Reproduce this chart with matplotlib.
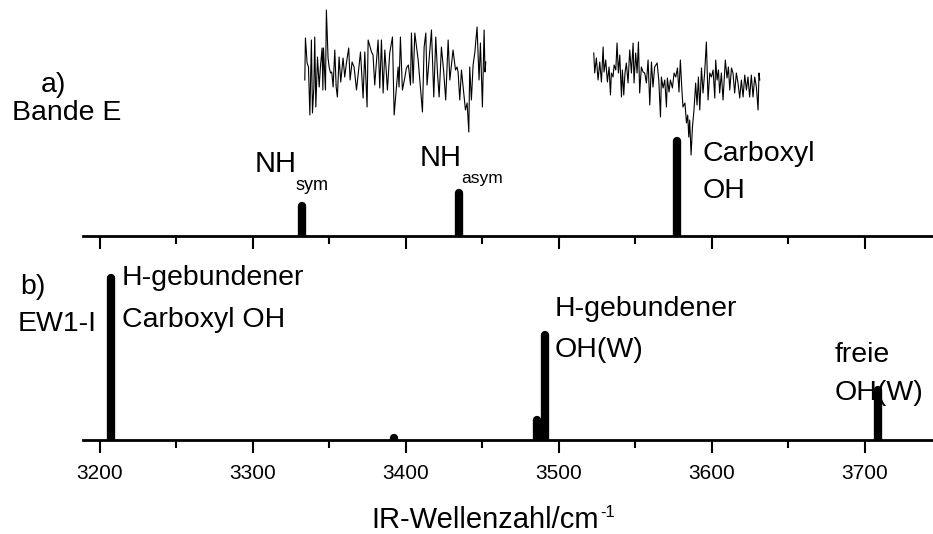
import matplotlib
matplotlib.use("Agg")
import matplotlib.pyplot as plt
from matplotlib.ticker import MultipleLocator

plt.rcParams['font.family'] = ['Liberation Sans', 'DejaVu Sans']

# Panel a) Bande E: computed stick spectrum (wavenumber / cm-1, relative intensity)
a_wn = [3332.0, 3434.5, 3577.0]
a_int = [0.30, 0.43, 0.95]

# Panel b) EW1-I: computed stick spectrum
b_wn = [3207.0, 3392.5, 3486.0, 3490.8, 3708.5]
b_int = [1.62, 0.02, 0.20, 1.05, 0.50]

# Experimental IR trace, first scan window
exp1_wn = [3334.0, 3334.4, 3335.5, 3336.4, 3337.3, 3338.3, 3339.0, 3339.9, 3340.5, 3341.2,
           3342.3, 3343.4, 3344.2, 3345.3, 3345.8, 3346.2, 3347.5, 3348.1, 3349.2, 3349.9,
           3350.8, 3351.6, 3352.5, 3353.6, 3354.5, 3355.3, 3356.4, 3357.5, 3359.0, 3360.1,
           3361.2, 3362.7, 3363.6, 3364.9, 3366.2, 3367.8, 3370.4, 3372.1, 3373.2, 3374.7,
           3375.4, 3377.6, 3378.6, 3379.7, 3381.9, 3383.0, 3384.1, 3385.2, 3386.3, 3387.4,
           3388.0, 3389.5, 3391.3, 3392.4, 3395.0, 3395.6, 3396.5, 3397.8, 3399.1, 3400.4,
           3401.7, 3403.1, 3403.7, 3404.8, 3405.9, 3408.1, 3410.9, 3412.0, 3413.1, 3413.9,
           3416.8, 3418.3, 3419.6, 3420.7, 3421.8, 3423.3, 3424.8, 3426.1, 3427.7, 3428.8,
           3430.9, 3432.5, 3433.5, 3434.2, 3435.3, 3436.4, 3437.5, 3439.0, 3440.1, 3441.2,
           3441.8, 3442.9, 3444.0, 3445.1, 3446.6, 3447.9, 3448.8, 3450.1, 3451.2, 3451.8,
           3452.3]
exp1_sig = [1.56, 1.98, 1.73, 1.69, 1.21, 1.96, 1.23, 1.48, 1.99, 1.29,
            1.79, 1.49, 1.69, 1.88, 1.46, 1.88, 1.46, 2.26, 1.78, 1.69,
            1.63, 1.64, 1.49, 1.86, 1.49, 1.39, 1.79, 1.54, 1.78, 1.59,
            1.73, 1.88, 1.56, 1.74, 1.69, 1.46, 1.84, 1.38, 1.84, 1.29,
            1.96, 1.84, 1.81, 1.51, 1.96, 1.48, 1.96, 1.43, 1.86, 1.61,
            1.46, 1.83, 1.99, 1.21, 1.69, 1.49, 1.99, 1.46, 1.56, 1.68,
            1.71, 1.51, 2.03, 1.53, 2.03, 1.76, 1.24, 1.89, 2.03, 1.51,
            2.06, 1.39, 1.99, 1.64, 1.39, 1.89, 1.64, 1.36, 1.96, 1.56,
            1.86, 1.66, 1.69, 1.64, 1.36, 1.66, 1.49, 1.26, 1.33, 1.04,
            1.69, 1.36, 1.71, 1.83, 2.09, 1.56, 1.93, 1.29, 2.06, 1.64,
            1.74]

# Experimental IR trace, second scan window
exp2_wn = [3522.9, 3523.5, 3524.6, 3525.7, 3526.8, 3527.9, 3529.0, 3529.6, 3530.7, 3531.8,
           3532.9, 3533.8, 3534.4, 3535.5, 3536.2, 3537.3, 3538.1, 3539.0, 3539.9, 3541.0,
           3541.6, 3542.5, 3543.3, 3544.2, 3545.3, 3546.4, 3547.5, 3548.6, 3549.2, 3550.3,
           3551.2, 3552.1, 3552.9, 3554.0, 3555.1, 3556.2, 3557.3, 3558.4, 3559.5, 3560.6,
           3561.6, 3562.7, 3564.3, 3565.4, 3566.5, 3567.1, 3568.2, 3569.3, 3570.4, 3571.0,
           3572.1, 3573.0, 3574.3, 3575.4, 3576.5, 3577.6, 3578.6, 3579.5, 3580.4, 3581.2,
           3582.5, 3583.5, 3584.3, 3585.0, 3585.6, 3586.5, 3587.4, 3588.4, 3589.5, 3590.4,
           3591.3, 3592.2, 3593.3, 3594.3, 3595.4, 3596.5, 3597.6, 3598.7, 3599.8, 3600.9,
           3602.0, 3602.6, 3603.5, 3604.4, 3605.2, 3606.3, 3607.4, 3608.9, 3610.0, 3610.9,
           3611.8, 3612.9, 3613.9, 3615.0, 3616.1, 3617.2, 3618.3, 3619.4, 3620.5, 3621.6,
           3622.7, 3623.7, 3624.8, 3625.9, 3627.0, 3628.1, 3629.2, 3630.3, 3630.9, 3631.4]
exp2_sig = [1.83, 1.63, 1.78, 1.56, 1.74, 1.54, 1.89, 1.64, 1.76, 1.54,
            1.69, 1.41, 1.63, 1.59, 1.71, 1.66, 1.93, 1.63, 1.81, 1.39,
            1.66, 1.41, 1.63, 1.73, 1.53, 1.86, 1.63, 1.93, 1.53, 1.83,
            1.63, 1.94, 1.43, 1.69, 1.64, 1.63, 1.53, 1.76, 1.31, 1.74,
            1.49, 1.69, 1.73, 1.56, 1.19, 1.59, 1.48, 1.56, 1.29, 1.58,
            1.44, 1.56, 1.48, 1.63, 1.59, 1.68, 1.44, 1.76, 1.49, 1.29,
            1.33, 1.13, 1.21, 0.99, 1.16, 0.81, 1.09, 1.26, 1.53, 1.31,
            1.59, 1.26, 1.68, 1.43, 1.64, 1.94, 1.36, 1.63, 1.59, 1.66,
            1.38, 1.76, 1.56, 1.66, 1.43, 1.63, 1.36, 1.76, 1.58, 1.69,
            1.46, 1.68, 1.63, 1.43, 1.63, 1.53, 1.38, 1.56, 1.39, 1.61,
            1.46, 1.59, 1.39, 1.61, 1.39, 1.59, 1.49, 1.26, 1.63, 1.56]

tick_values = [3200, 3300, 3400, 3500, 3600, 3700]
tick_labels = ["3200", "3300", "3400", "3500", "3600", "3700"]

W, H = 933, 534
fig = plt.figure(figsize=(W / 100, H / 100), dpi=100)


def px(x, y):
    return x / W, 1 - y / H


x0, x1 = 83, 932
ax_a = fig.add_axes([x0 / W, 1 - 236 / H, (x1 - x0) / W, 236 / H])
ax_b = fig.add_axes([x0 / W, 1 - 440 / H, (x1 - x0) / W, 195 / H])

for ax in (ax_a, ax_b):
    ax.set_xlim(3189, 3744)
    for s in ("top", "left", "right"):
        ax.spines[s].set_visible(False)
    ax.spines["bottom"].set_linewidth(2.0)
    ax.set_yticks([])
    ax.xaxis.set_minor_locator(MultipleLocator(50))
    ax.set_xticks(tick_values)
    ax.tick_params(axis="x", which="major", direction="out", length=9, width=1.5,
                   labelsize=15, pad=8)
    ax.tick_params(axis="x", which="minor", direction="out", length=6, width=1.5)
    ax.patch.set_alpha(0)

ax_a.set_ylim(0, 2.36)
ax_b.set_ylim(0, 1.95)
ax_a.set_xticklabels([])
ax_b.set_xticklabels(tick_labels)

sticks_a = ax_a.vlines(a_wn, 0, a_int, colors="black", linewidth=6)
sticks_a.set_capstyle("round")
sticks_b = ax_b.vlines(b_wn, 0, b_int, colors="black", linewidth=6)
sticks_b.set_capstyle("round")

ax_a.plot(exp1_wn, exp1_sig, color="black", linewidth=0.8, clip_on=False)
ax_a.plot(exp2_wn, exp2_sig, color="black", linewidth=0.8, clip_on=False)

big = 20.5


def label(x, y, s, size=big, ha="left"):
    return fig.text(*px(x, y), s, fontsize=size, ha=ha, va="baseline")


label(41, 92, "a)")
label(12, 120, "Bande E")
label(255, 172, "NH", 21)
label(296, 190, "sym", 13)
label(420, 166, "NH", 21)
label(461, 183, "asym", 12.5)
label(703, 161, "Carboxyl")
label(703, 198, "OH")

label(20, 294, "b)")
label(18, 331, "EW1-I")
label(122, 285, "H-gebundener")
label(122, 327, "Carboxyl OH")
label(555, 316, "H-gebundener")
label(555, 357, "OH(W)")
label(835, 362, "freie")
label(835, 400, "OH(W)")

# x-axis title with a small raised exponent placed right after it
xtitle = label(371, 528, "IR-Wellenzahl/cm", 21)
ax_b.annotate("-1", xy=(1.0, 1.0), xycoords=xtitle, xytext=(1, 1),
              textcoords="offset points", ha="left", va="top", fontsize=12,
              annotation_clip=False)

fig.savefig("out.png", dpi=100)
